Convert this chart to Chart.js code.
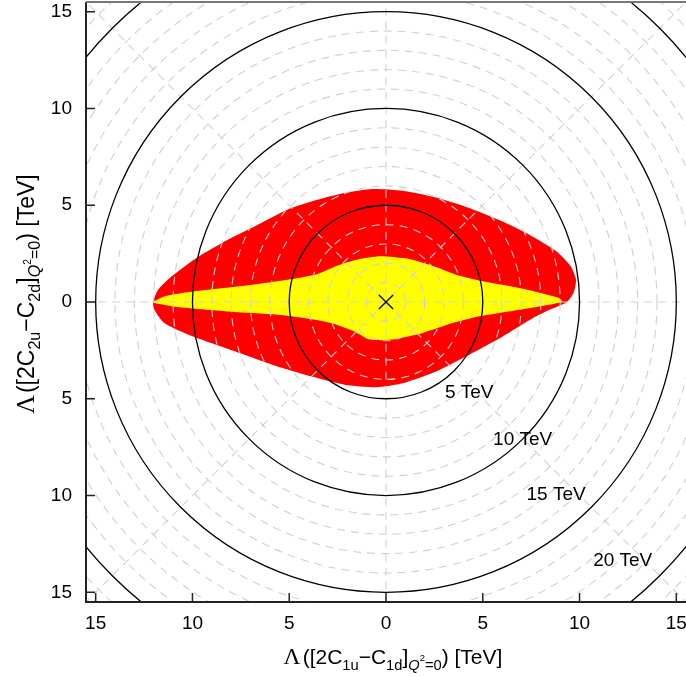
<!DOCTYPE html>
<html>
<head>
<meta charset="utf-8">
<script src="https://cdn.jsdelivr.net/npm/chart.js@4.4.1/dist/chart.umd.min.js"></script>
<style>
  html, body { margin: 0; padding: 0; background: #fff; }
  canvas { display: block; }
</style>
</head>
<body>
<canvas id="c" width="686" height="677" style="width:686px;height:677px"></canvas>
<script>
// outer (red) region boundary, going round the shape [TeV]
const redX = [-12.05, -11.8, -11.1, -9.8, -8.2, -6.8, -5.1, -3.5, -2.15, -0.7, 0.86, 2.58, 4.3, 6.0, 7.4, 8.8, 9.55, 9.82, 9.7, 9.35,
              8.45, 7.75, 6.03, 4.3, 2.58, 0.86, -0.5, -2.15, -3.88, -5.6, -7.32, -9.04, -10.42, -11.46, -11.97, -12.05];
const redY = [0, 0.6, 1.3, 2.27, 3.2, 3.9, 4.77, 5.29, 5.63, 5.84, 5.75, 5.4, 4.86, 4.17, 3.48, 2.62, 1.84, 1.15, 0.5, 0,
              -0.4, -0.74, -1.78, -2.72, -3.59, -4.2, -4.4, -4.27, -3.84, -3.33, -2.72, -2.12, -1.6, -1.09, -0.4, 0];

// inner (yellow) region boundary
const yelX = [-12.05, -11.46, -9.9, -7.32, -5.08, -3.53, -2.5, -1.47, -0.3, 1.2, 2.58, 3.62, 5.0, 6.89, 8.96, 9.1,
              6.89, 4.82, 3.44, 1.89, 0.52, -0.2, -0.9, -1.64, -2.84, -4.22, -5.6, -8.19, -10.77, -11.97, -12.05];
const yelY = [0, 0.29, 0.55, 0.84, 1.15, 1.45, 1.88, 2.19, 2.36, 2.22, 1.81, 1.41, 1.07, 0.72, 0.2, 0,
              -0.4, -0.74, -1.09, -1.6, -1.91, -1.97, -1.93, -1.52, -1.09, -0.83, -0.66, -0.49, -0.26, -0.05, 0];

// best fit point
const centerX = [0];
const centerY = [0];

// reference circles
const gridRadii = [1, 2, 3, 4, 6, 7, 8, 9, 11, 12, 13, 14, 16, 17, 18, 19, 21, 22];
const gridAngles = [0, 45, 90, 135];
const contourRadii = [5, 10, 15, 20];
const contourLabels = ['5 TeV', '10 TeV', '15 TeV', '20 TeV'];
const contourLabelX = [4.3, 7.06, 8.79, 12.23];
const contourLabelY = [-4.67, -7.12, -9.96, -13.35];

const tickValues = [-15, -10, -5, 0, 5, 10, 15];

const xTitle = [['Λ', 'g'], ['([2C', 'n'], ['1u', 's'], ['−C', 'n'], ['1d', 's'], [']', 'n'], ['Q', 'si'], ['2', 'ss'], ['=0', 's'], [') [TeV]', 'n']];
const yTitle = [['Λ', 'g'], ['([2C', 'n'], ['2u', 's'], ['−C', 'n'], ['2d', 's'], [']', 'n'], ['Q', 'si'], ['2', 'ss'], ['=0', 's'], [') [TeV]', 'n']];

const SANS = '"Liberation Sans", Arial, sans-serif';

function toPts(xs, ys) {
  return xs.map((x, i) => ({ x: x, y: ys[i] }));
}

// text with sub/superscripts, centred on (0,0) baseline
function richFont(style, size) {
  if (style === 'g') return (size * 1.12) + 'px "Liberation Serif", serif';
  if (style === 's') return (size * 0.7) + 'px ' + SANS;
  if (style === 'si') return 'italic ' + (size * 0.7) + 'px ' + SANS;
  if (style === 'ss') return (size * 0.45) + 'px ' + SANS;
  return size + 'px ' + SANS;
}
function richDy(style, size) {
  if (style === 's' || style === 'si') return size * 0.28;
  if (style === 'ss') return -size * 0.12;
  return 0;
}
function drawRich(ctx, parts, size) {
  let total = 0;
  const widths = parts.map(p => {
    ctx.font = richFont(p[1], size);
    const w = ctx.measureText(p[0]).width + (p[1] === 'g' ? 2 : 0);
    total += w;
    return w;
  });
  let cx = -total / 2;
  ctx.textAlign = 'left';
  ctx.textBaseline = 'alphabetic';
  parts.forEach((p, i) => {
    ctx.font = richFont(p[1], size);
    ctx.fillText(p[0], cx, richDy(p[1], size));
    cx += widths[i];
  });
}

const polarGrid = {
  id: 'polarGrid',
  afterDatasetDraw(chart, args) {
    if (args.index !== 1) return; // right after the yellow band
    const { ctx, chartArea: a, scales: { x, y } } = chart;
    const x0 = x.getPixelForValue(0), y0 = y.getPixelForValue(0);
    ctx.save();
    ctx.beginPath();
    ctx.rect(a.left, a.top, a.right - a.left, a.bottom - a.top);
    ctx.clip();

    // dashed grid
    ctx.strokeStyle = '#d0d0d0';
    ctx.lineWidth = 1.1;
    ctx.setLineDash([8, 6]);
    gridRadii.forEach(r => {
      ctx.beginPath();
      ctx.ellipse(x0, y0, x.getPixelForValue(r) - x0, y0 - y.getPixelForValue(r), 0, 0, Math.PI * 2);
      ctx.stroke();
    });
    gridAngles.forEach(deg => {
      const t = deg * Math.PI / 180;
      ctx.beginPath();
      ctx.moveTo(x.getPixelForValue(-25 * Math.cos(t)), y.getPixelForValue(-25 * Math.sin(t)));
      ctx.lineTo(x.getPixelForValue(25 * Math.cos(t)), y.getPixelForValue(25 * Math.sin(t)));
      ctx.stroke();
    });

    // solid contours
    ctx.setLineDash([]);
    ctx.strokeStyle = '#000';
    ctx.lineWidth = 1.3;
    contourRadii.forEach(r => {
      ctx.beginPath();
      ctx.ellipse(x0, y0, x.getPixelForValue(r) - x0, y0 - y.getPixelForValue(r), 0, 0, Math.PI * 2);
      ctx.stroke();
    });
    ctx.restore();
  },
  afterDraw(chart) {
    const { ctx, chartArea: a, scales: { x, y } } = chart;
    ctx.save();
    ctx.fillStyle = '#000';
    ctx.font = '19px ' + SANS;
    ctx.textAlign = 'center';
    ctx.textBaseline = 'middle';
    contourLabels.forEach((t, i) => {
      ctx.fillText(t, x.getPixelForValue(contourLabelX[i]), y.getPixelForValue(contourLabelY[i]));
    });

    // frame + inward ticks
    ctx.strokeStyle = '#222';
    ctx.lineWidth = 2;
    ctx.beginPath();
    ctx.moveTo(a.left, a.top);
    ctx.lineTo(a.left, a.bottom);
    ctx.lineTo(a.right, a.bottom);
    ctx.stroke();
    ctx.strokeStyle = '#777';
    ctx.beginPath();
    ctx.moveTo(a.left, a.top);
    ctx.lineTo(a.right, a.top);
    ctx.stroke();
    ctx.strokeStyle = '#222';
    ctx.lineWidth = 1.5;
    tickValues.forEach(v => {
      const px = x.getPixelForValue(v), py = y.getPixelForValue(v);
      ctx.beginPath();
      ctx.moveTo(px, a.bottom);
      ctx.lineTo(px, a.bottom - 9);
      ctx.moveTo(a.left, py);
      ctx.lineTo(a.left + 9, py);
      ctx.stroke();
    });

    // axis titles
    ctx.fillStyle = '#000';
    ctx.save();
    ctx.translate(393, 664);
    drawRich(ctx, xTitle, 21);
    ctx.restore();
    ctx.save();
    ctx.translate(34, 294);
    ctx.rotate(-Math.PI / 2);
    drawRich(ctx, yTitle, 23);
    ctx.restore();
    ctx.restore();
  }
};

const tickStyle = {
  color: '#000',
  font: { family: SANS, size: 19 },
  callback: v => Math.abs(v)
};

new Chart(document.getElementById('c').getContext('2d'), {
  type: 'scatter',
  data: {
    datasets: [
      {
        data: toPts(centerX, centerY),
        pointStyle: 'crossRot',
        pointRadius: 10,
        borderColor: '#000',
        borderWidth: 1.3,
        order: 1
      },
      {
        data: toPts(yelX, yelY),
        showLine: true,
        fill: 'shape',
        backgroundColor: '#ffff00',
        borderWidth: 0,
        pointRadius: 0,
        tension: 0.2,
        order: 2
      },
      {
        data: toPts(redX, redY),
        showLine: true,
        fill: 'shape',
        backgroundColor: '#ff0000',
        borderWidth: 0,
        pointRadius: 0,
        tension: 0.2,
        order: 3
      }
    ]
  },
  options: {
    responsive: false,
    animation: false,
    events: [],
    layout: { autoPadding: false, padding: { top: 2, right: 0, left: 0, bottom: 0 } },
    plugins: { legend: { display: false }, tooltip: { enabled: false } },
    scales: {
      x: {
        type: 'linear',
        min: -15.5,
        max: 15.5,
        grid: { display: false, drawTicks: false },
        border: { display: false },
        ticks: Object.assign({ padding: 10, maxRotation: 0 }, tickStyle),
        afterBuildTicks: s => { s.ticks = tickValues.map(v => ({ value: v })); },
        afterFit: s => { s.height = 75; s.paddingLeft = 0; s.paddingRight = 0; }
      },
      y: {
        type: 'linear',
        min: -15.5,
        max: 15.5,
        grid: { display: false, drawTicks: false },
        border: { display: false },
        ticks: Object.assign({ padding: 14 }, tickStyle),
        afterBuildTicks: s => { s.ticks = tickValues.map(v => ({ value: v })); },
        afterFit: s => { s.width = 86; s.paddingTop = 0; s.paddingBottom = 0; }
      }
    }
  },
  plugins: [polarGrid]
});
</script>
</body>
</html>
